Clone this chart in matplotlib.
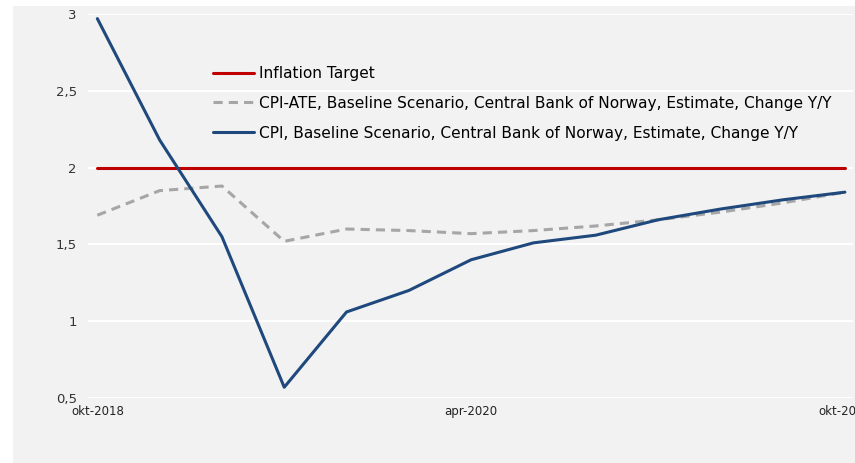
import matplotlib.pyplot as plt
import matplotlib.patches as mpatches

# quarterly observations, okt-2018 .. okt-2021
quarters = ["okt-2018", "jan-2019", "apr-2019", "jul-2019", "okt-2019", "jan-2020",
            "apr-2020", "jul-2020", "okt-2020", "jan-2021", "apr-2021", "jul-2021", "okt-2021"]
cpi = [2.97, 2.18, 1.55, 0.57, 1.06, 1.20, 1.40, 1.51, 1.56, 1.66, 1.73, 1.79, 1.84]
cpi_ate = [1.69, 1.85, 1.88, 1.52, 1.60, 1.59, 1.57, 1.59, 1.62, 1.66, 1.71, 1.77, 1.84]
target = [2.0] * len(quarters)
yticks = [0.5, 1, 1.5, 2, 2.5, 3]

x = list(range(len(quarters)))

fig = plt.figure(figsize=(8.55, 4.63), dpi=100)
fig.patch.set_facecolor("white")
# grey panel behind the chart
fig.patches.append(mpatches.Rectangle((13 / 855, 0), 1, (463 - 6) / 463,
                                      transform=fig.transFigure, facecolor="#f2f2f2",
                                      edgecolor="none", zorder=-10))

ax = fig.add_axes([88 / 855, 1 - 398 / 463, (853 - 88) / 855, (398 - 14) / 463])
ax.set_facecolor("none")

ax.plot(x, target, color="#c00000", lw=2.2, label="Inflation Target", clip_on=False,
        solid_capstyle="round")
ax.plot(x, cpi_ate, color="#a6a6a6", lw=2.2, ls=(0, (3, 2)),
        label="CPI-ATE, Baseline Scenario, Central Bank of Norway, Estimate, Change Y/Y",
        clip_on=False)
ax.plot(x, cpi, color="#1f497d", lw=2.2,
        label="CPI, Baseline Scenario, Central Bank of Norway, Estimate, Change Y/Y",
        clip_on=False, solid_capstyle="round")

ax.set_xlim(-0.15, 12.13)
ax.set_ylim(0.5, 3)
ax.set_yticks(yticks)
ax.set_yticklabels([("%g" % v).replace(".", ",") for v in yticks], fontsize=9.5, color="#333333")
ax.set_xticks([0, 6, 12])
ax.set_xticklabels([quarters[0], quarters[6], quarters[12]], fontsize=8.5, color="#222222")
ax.tick_params(axis="y", length=0, pad=8)
ax.tick_params(axis="x", length=0, pad=5)
ax.grid(axis="y", color="white", lw=1.5)
ax.set_axisbelow(True)
for s in ax.spines.values():
    s.set_visible(False)

ax.legend(loc="upper left", bbox_to_anchor=(0.155, 0.88), frameon=False, fontsize=11.1,
          handlelength=2.7, handletextpad=0.3, labelspacing=0.95, borderaxespad=0)

fig.savefig("out.png", dpi=100)
